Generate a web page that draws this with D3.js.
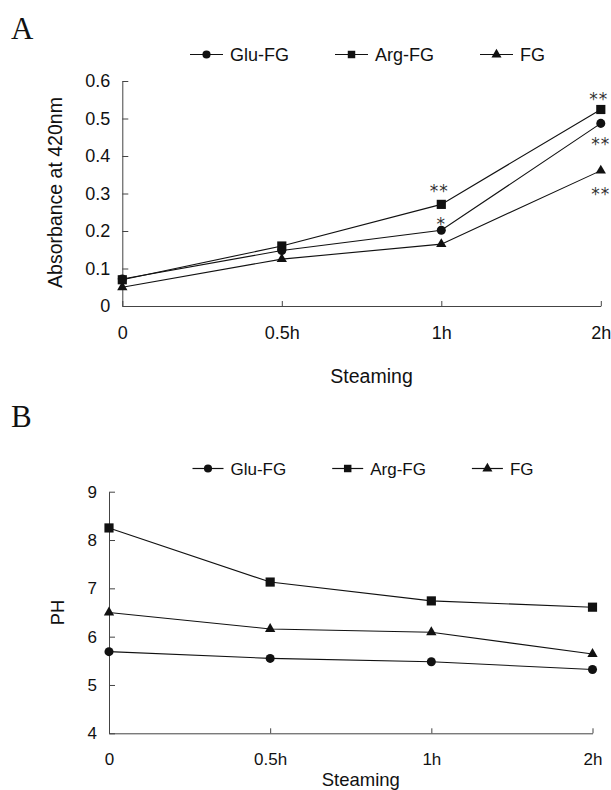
<!DOCTYPE html>
<html>
<head>
<meta charset="utf-8">
<script src="https://cdn.jsdelivr.net/npm/d3@7"></script>
<style>
  body { margin: 0; background: #fff; }
  svg { display: block; }
</style>
</head>
<body>
<div id="chart"></div>
<script>
// steaming time points (x categories)
const steamTimes = ["0", "0.5h", "1h", "2h"];
const seriesNames = ["Glu-FG", "Arg-FG", "FG"];

// panel A : absorbance at 420nm
const absGlu = [0.072, 0.148, 0.202, 0.487];
const absArg = [0.070, 0.160, 0.271, 0.524];
const absFG  = [0.050, 0.125, 0.165, 0.361];
const absTicks = [0, 0.1, 0.2, 0.3, 0.4, 0.5, 0.6];

// significance marks on panel A
const absStars = [
  { series: "Arg-FG", time: "1h", text: "**" },
  { series: "Glu-FG", time: "1h", text: "*" },
  { series: "Arg-FG", time: "2h", text: "**" },
  { series: "Glu-FG", time: "2h", text: "**" },
  { series: "FG",     time: "2h", text: "**" }
];

// panel B : pH
const phGlu = [5.69, 5.55, 5.48, 5.32];
const phArg = [8.25, 7.13, 6.74, 6.61];
const phFG  = [6.50, 6.16, 6.09, 5.64];
const phTicks = [4, 5, 6, 7, 8, 9];

const width = 611, height = 790;
const symbols = {
  "Glu-FG": d3.symbol(d3.symbolCircle, 64),
  "Arg-FG": d3.symbol(d3.symbolSquare, 84),
  "FG":     d3.symbol(d3.symbolTriangle, 46)
};
const legendSymbols = {
  "Glu-FG": d3.symbol(d3.symbolCircle, 52),
  "Arg-FG": d3.symbol(d3.symbolSquare, 56),
  "FG":     d3.symbol(d3.symbolTriangle, 44)
};

const svg = d3.select("#chart").append("svg")
  .attr("width", width)
  .attr("height", height)
  .attr("viewBox", [0, 0, width, height])
  .attr("font-family", "'Liberation Sans', Arial, sans-serif")
  .style("background", "#fff");

/********************************************************************************/
function drawPanel(cfg) {
  const g = svg.append("g");

  const x = d3.scalePoint(steamTimes, [cfg.left, cfg.right]);
  const y = d3.scaleLinear(cfg.domain, [cfg.bottom, cfg.top]);

  // panel letter
  g.append("text")
    .attr("x", 11)
    .attr("y", cfg.letterY)
    .attr("font-family", "'Liberation Serif', 'DejaVu Serif', serif")
    .attr("font-size", 31)
    .attr("fill", "#111")
    .text(cfg.letter);

  // legend
  const leg = g.append("g")
    .attr("transform", `translate(${cfg.legendX},${cfg.legendY})`);
  seriesNames.forEach((name, i) => {
    const item = leg.append("g").attr("transform", `translate(${i * cfg.legendStep},0)`);
    item.append("line")
      .attr("x1", 0).attr("x2", cfg.legendLine)
      .attr("stroke", "#111").attr("stroke-width", 1.2);
    item.append("path")
      .attr("transform", `translate(${cfg.legendLine / 2},0)`)
      .attr("d", legendSymbols[name]())
      .attr("fill", "#111");
    item.append("text")
      .attr("x", cfg.legendLine + 7)
      .attr("dy", "0.36em")
      .attr("font-size", cfg.fontSize)
      .attr("fill", "#111")
      .text(name);
  });

  // y axis (ticks inside)
  const yAxis = g.append("g")
    .attr("transform", `translate(${cfg.left},0)`)
    .call(d3.axisLeft(y).tickValues(cfg.ticks).tickFormat(d => d)
      .tickSizeInner(-6).tickSizeOuter(0).tickPadding(12));
  yAxis.selectAll("text").attr("font-size", cfg.fontSize).attr("fill", "#111");

  // x axis (ticks inside)
  const xAxis = g.append("g")
    .attr("transform", `translate(0,${cfg.bottom})`)
    .call(d3.axisBottom(x).tickSizeInner(-5).tickSizeOuter(0).tickPadding(20));
  xAxis.selectAll("text").attr("font-size", cfg.fontSize).attr("fill", "#111");

  svg.selectAll(".domain, .tick line").attr("stroke", "#444").attr("stroke-width", 1);
  yAxis.attr("font-family", null);
  xAxis.attr("font-family", null);

  // axis titles
  g.append("text")
    .attr("transform", `translate(${cfg.yTitleX},${(cfg.top + cfg.bottom) / 2 + cfg.yTitleShift}) rotate(-90)`)
    .attr("text-anchor", "middle")
    .attr("dy", "0.36em")
    .attr("font-size", cfg.titleSize)
    .attr("fill", "#111")
    .text(cfg.yTitle);

  g.append("text")
    .attr("x", (cfg.left + cfg.right) / 2 + 10)
    .attr("y", cfg.xTitleY)
    .attr("text-anchor", "middle")
    .attr("dy", "0.36em")
    .attr("font-size", cfg.titleSize)
    .attr("fill", "#111")
    .text("Steaming");

  // series lines and markers
  const line = d3.line().x(d => x(d.time)).y(d => y(d.value));
  cfg.series.forEach((vals, i) => {
    const name = seriesNames[i];
    const pts = vals.map((v, j) => ({ time: steamTimes[j], value: v }));
    g.append("path")
      .attr("d", line(pts))
      .attr("fill", "none")
      .attr("stroke", "#111")
      .attr("stroke-width", 1.1);
    g.append("g")
      .selectAll("path")
      .data(pts)
      .join("path")
      .attr("transform", d => `translate(${x(d.time)},${y(d.value)})`)
      .attr("d", symbols[name]())
      .attr("fill", "#111");
  });

  // significance stars
  if (cfg.stars) {
    const starOffset = {
      "Arg-FG 1h": [-2, -18], "Glu-FG 1h": [0, -11],
      "Arg-FG 2h": [-2, -15], "Glu-FG 2h": [0, 16], "FG 2h": [0, 19]
    };
    cfg.stars.forEach(s => {
      const vals = cfg.series[seriesNames.indexOf(s.series)];
      const v = vals[steamTimes.indexOf(s.time)];
      const off = starOffset[s.series + " " + s.time];
      g.append("text")
        .attr("x", x(s.time) + off[0])
        .attr("y", y(v) + off[1])
        .attr("text-anchor", "middle")
        .attr("dy", "0.62em")
        .attr("font-family", "'DejaVu Sans', sans-serif")
        .attr("font-size", 17)
        .attr("letter-spacing", 1)
        .attr("fill", "#333")
        .text(s.text);
    });
  }
}
/********************************************************************************/

drawPanel({
  letter: "A", letterY: 39,
  domain: [0, 0.6], ticks: absTicks,
  left: 122.3, right: 600.8, top: 81, bottom: 306,
  series: [absGlu, absArg, absFG],
  stars: absStars,
  legendX: 190, legendY: 54.5, legendStep: 145, legendLine: 33,
  fontSize: 18, titleSize: 19.5,
  yTitle: "Absorbance at 420nm", yTitleX: 54.5, yTitleShift: -1,
  xTitleY: 376
});

drawPanel({
  letter: "B", letterY: 427,
  domain: [4, 9], ticks: phTicks,
  left: 109, right: 592.5, top: 491.7, bottom: 733.3,
  series: [phGlu, phArg, phFG],
  stars: null,
  legendX: 192.5, legendY: 468.5, legendStep: 139.7, legendLine: 31,
  fontSize: 17, titleSize: 18.5,
  yTitle: "PH", yTitleX: 57.5, yTitleShift: 0,
  xTitleY: 779
});
</script>
</body>
</html>
